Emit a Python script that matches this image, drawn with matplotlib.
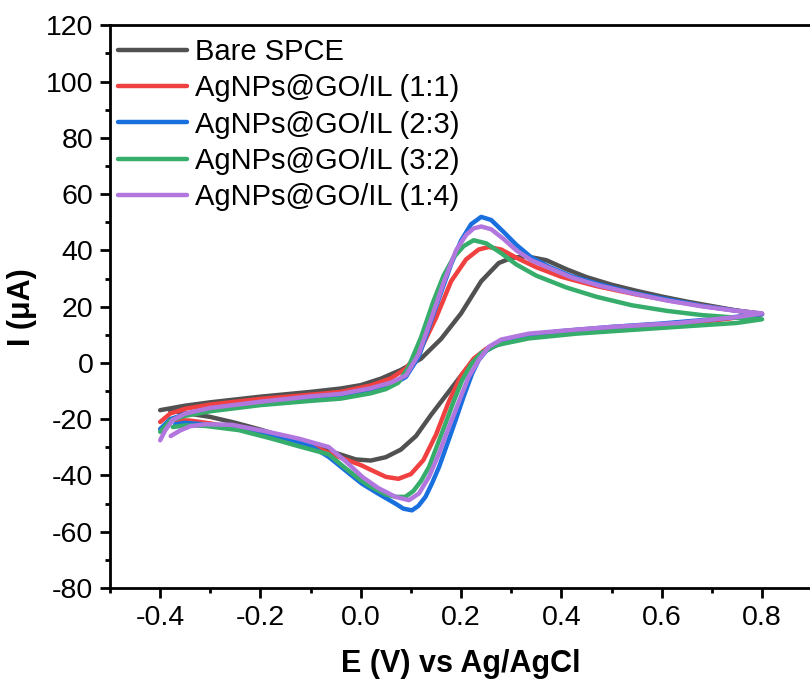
import matplotlib
matplotlib.use("Agg")
import matplotlib.pyplot as plt
from matplotlib.ticker import MultipleLocator

plt.rcParams['font.family'] = ['Liberation Sans', 'DejaVu Sans']
plt.rcParams['axes.unicode_minus'] = False

labels = ["Bare SPCE", "AgNPs@GO/IL (1:1)", "AgNPs@GO/IL (2:3)",
          "AgNPs@GO/IL (3:2)", "AgNPs@GO/IL (1:4)"]
colors = ["#515151", "#F14040", "#1A6FDF", "#37AD6B", "#B177DE"]

# Bare SPCE
bare_E_fwd = [-0.40, -0.35, -0.30, -0.20, -0.10, -0.04, 0.00, 0.04, 0.08, 0.12, 0.16, 0.20, 0.24, 0.275,
              0.30, 0.33, 0.37, 0.41, 0.45, 0.50, 0.55, 0.60, 0.65, 0.70, 0.75, 0.80]
bare_I_fwd = [-16.8, -15.2, -14.0, -12.0, -10.3, -9.1, -7.9, -5.6, -2.5, 1.5, 8.5, 17.6, 29.0, 35.5,
              37.3, 37.9, 36.5, 33.3, 30.5, 27.8, 25.6, 23.6, 21.8, 20.2, 18.6, 17.5]
bare_E_rev = [0.80, 0.75, 0.70, 0.60, 0.50, 0.43, 0.36, 0.30, 0.26, 0.23, 0.20, 0.17, 0.14, 0.11, 0.08,
              0.05, 0.02, -0.01, -0.05, -0.10, -0.15, -0.20, -0.25, -0.30, -0.35, -0.38]
bare_I_rev = [17.5, 16.2, 15.3, 13.8, 12.5, 11.7, 10.5, 8.2, 5.5, 2.0, -4.5, -11.5, -18.5, -26.0, -30.8,
              -33.5, -34.7, -34.3, -32.0, -29.3, -26.5, -23.7, -21.3, -19.2, -17.8, -17.0]

# AgNPs@GO/IL (1:1)
r11_E_fwd = [-0.40, -0.38, -0.35, -0.30, -0.20, -0.10, -0.04, 0.02, 0.06, 0.09, 0.12, 0.15, 0.18, 0.21,
             0.235, 0.255, 0.28, 0.31, 0.35, 0.40, 0.47, 0.55, 0.62, 0.70, 0.80]
r11_I_fwd = [-21.0, -18.0, -16.3, -14.8, -12.8, -11.3, -10.3, -8.0, -5.5, -2.0, 5.0, 16.0, 29.0, 36.8,
             40.3, 41.2, 40.3, 37.4, 34.0, 30.6, 27.3, 24.3, 22.0, 19.8, 17.3]
r11_E_rev = [0.80, 0.70, 0.60, 0.50, 0.40, 0.33, 0.28, 0.25, 0.225, 0.20, 0.175, 0.15, 0.125, 0.10,
             0.075, 0.05, 0.02, 0.00, -0.05, -0.10, -0.15, -0.22, -0.30, -0.34, -0.37]
r11_I_rev = [17.3, 15.0, 13.5, 12.2, 10.7, 9.2, 7.5, 5.0, 1.5, -4.5, -14.0, -25.5, -34.5, -39.5,
             -41.2, -40.5, -38.0, -36.3, -33.0, -29.3, -26.8, -24.3, -21.5, -20.5, -20.3]

# AgNPs@GO/IL (2:3)
r23_E_fwd = [-0.40, -0.38, -0.35, -0.30, -0.20, -0.10, -0.04, 0.02, 0.06, 0.09, 0.115, 0.13, 0.155,
             0.18, 0.20, 0.22, 0.24, 0.26, 0.285, 0.31, 0.34, 0.375, 0.42, 0.475, 0.54, 0.61, 0.68,
             0.74, 0.80]
r23_I_fwd = [-23.5, -20.0, -18.2, -16.5, -14.0, -12.3, -11.5, -9.5, -8.0, -5.0, 2.0, 9.5, 22.5,
             35.0, 43.5, 49.3, 51.9, 50.8, 46.5, 42.0, 37.5, 34.2, 30.8, 28.0, 25.0, 22.6, 20.3,
             18.8, 17.3]
r23_E_rev = [0.80, 0.70, 0.60, 0.50, 0.40, 0.33, 0.28, 0.25, 0.235, 0.222, 0.205, 0.189, 0.172, 0.156,
             0.142, 0.129, 0.115, 0.102, 0.085, 0.069, 0.035, 0.002, -0.03, -0.064, -0.10, -0.15,
             -0.22, -0.30, -0.35, -0.37]
r23_I_rev = [17.3, 15.5, 14.0, 12.8, 11.3, 9.8, 7.3, 4.3, 1.0, -3.8, -12.0, -20.4, -29.0, -37.0,
             -42.8, -47.6, -50.8, -52.4, -51.8, -50.0, -46.5, -42.9, -38.3, -33.4, -29.5, -26.8,
             -24.3, -22.0, -21.3, -21.8]

# AgNPs@GO/IL (3:2)
r32_E_fwd = [-0.40, -0.38, -0.35, -0.30, -0.20, -0.10, -0.04, 0.02, 0.05, 0.075, 0.095, 0.12, 0.145,
             0.165, 0.185, 0.205, 0.225, 0.25, 0.28, 0.31, 0.35, 0.41, 0.47, 0.54, 0.61, 0.68, 0.74,
             0.80]
r32_I_fwd = [-24.5, -20.5, -18.8, -17.2, -15.0, -13.5, -12.7, -10.8, -9.3, -7.0, -1.5, 9.0, 22.0,
             31.0, 37.5, 41.5, 43.6, 42.5, 39.0, 35.0, 31.0, 26.8, 23.5, 20.5, 18.5, 17.0, 16.2,
             15.5]
r32_E_rev = [0.80, 0.75, 0.63, 0.53, 0.43, 0.335, 0.27, 0.24, 0.22, 0.202, 0.185, 0.169, 0.152,
             0.136, 0.12, 0.105, 0.089, 0.07, 0.05, 0.02, 0.00, -0.03, -0.064, -0.124, -0.18,
             -0.243, -0.31, -0.35, -0.375]
r32_I_rev = [15.5, 14.2, 12.8, 11.6, 10.4, 8.7, 6.3, 3.5, -0.5, -6.2, -13.8, -21.5, -29.5,
             -37.0, -42.0, -45.5, -47.6, -47.6, -46.8, -44.0, -41.7, -37.5, -32.5, -29.6, -26.8,
             -23.9, -22.4, -22.2, -22.8]

# AgNPs@GO/IL (1:4)
r14_E_fwd = [-0.40, -0.39, -0.375, -0.35, -0.30, -0.20, -0.10, -0.04, 0.02, 0.06, 0.09, 0.115, 0.14,
             0.165, 0.19, 0.21, 0.225, 0.24, 0.26, 0.285, 0.31, 0.34, 0.375, 0.42, 0.475, 0.54,
             0.61, 0.68, 0.74, 0.80]
r14_I_fwd = [-27.5, -24.0, -20.3, -18.0, -16.0, -13.8, -11.9, -11.0, -9.0, -7.0, -4.5, 3.0, 15.5,
             28.5, 40.0, 45.5, 47.8, 48.5, 47.5, 44.0, 40.0, 36.5, 33.8, 30.4, 27.5, 24.8, 22.2,
             20.1, 18.7, 17.6]
r14_E_rev = [0.80, 0.754, 0.634, 0.50, 0.40, 0.335, 0.28, 0.255, 0.235, 0.215, 0.202, 0.189, 0.172,
             0.156, 0.136, 0.116, 0.096, 0.069, 0.035, 0.003, -0.03, -0.064, -0.124, -0.19, -0.257,
             -0.31, -0.34, -0.36, -0.379]
r14_I_rev = [17.6, 16.4, 14.2, 12.8, 11.4, 10.4, 8.3, 5.7, 1.0, -5.0, -10.8, -16.8, -24.5,
             -32.2, -40.5, -46.4, -48.8, -47.6, -44.5, -40.5, -35.0, -29.9, -26.9, -24.3, -22.0,
             -21.8, -22.5, -24.0, -26.0]

series = [
    (bare_E_fwd, bare_I_fwd, bare_E_rev, bare_I_rev),
    (r11_E_fwd, r11_I_fwd, r11_E_rev, r11_I_rev),
    (r23_E_fwd, r23_I_fwd, r23_E_rev, r23_I_rev),
    (r32_E_fwd, r32_I_fwd, r32_E_rev, r32_I_rev),
    (r14_E_fwd, r14_I_fwd, r14_E_rev, r14_I_rev),
]

fig = plt.figure(figsize=(8.1, 6.89), dpi=100)
ax = fig.add_axes([0.1358, 0.1466, 0.8669, 0.8167])

for (ef, i_f, er, ir), lab, c in zip(series, labels, colors):
    ax.plot(list(ef) + list(er), list(i_f) + list(ir), color=c, lw=3.2,
            solid_capstyle='round', solid_joinstyle='round', label=lab)

ax.set_xlim(-0.5, 0.9)
ax.set_ylim(-80, 120)
ax.xaxis.set_major_locator(MultipleLocator(0.2))
ax.xaxis.set_minor_locator(MultipleLocator(0.1))
ax.yaxis.set_major_locator(MultipleLocator(20))
ax.yaxis.set_minor_locator(MultipleLocator(10))
ax.set_xticks([-0.4, -0.2, 0.0, 0.2, 0.4, 0.6, 0.8])
ax.set_xticklabels(["-0.4", "-0.2", "0.0", "0.2", "0.4", "0.6", "0.8"])

for s in ['left', 'bottom', 'top']:
    ax.spines[s].set_linewidth(2.0)
ax.spines['right'].set_visible(False)
ax.tick_params(which='major', direction='out', length=7, width=2.0, labelsize=20.5, pad=5,
               top=False, right=False)
ax.tick_params(which='minor', direction='out', length=3.5, width=2.0, top=False, right=False)

ax.set_xlabel("E (V) vs Ag/AgCl", fontsize=22, fontweight='bold', labelpad=13)
ax.set_ylabel("I (μA)", fontsize=22, fontweight='bold', labelpad=6)

leg = ax.legend(loc='upper left', bbox_to_anchor=(0.012, 0.977), frameon=False, fontsize=21,
                handlelength=2.36, handletextpad=0.27, labelspacing=0.28, borderaxespad=0,
                borderpad=0)

fig.savefig("out.png", dpi=100)
